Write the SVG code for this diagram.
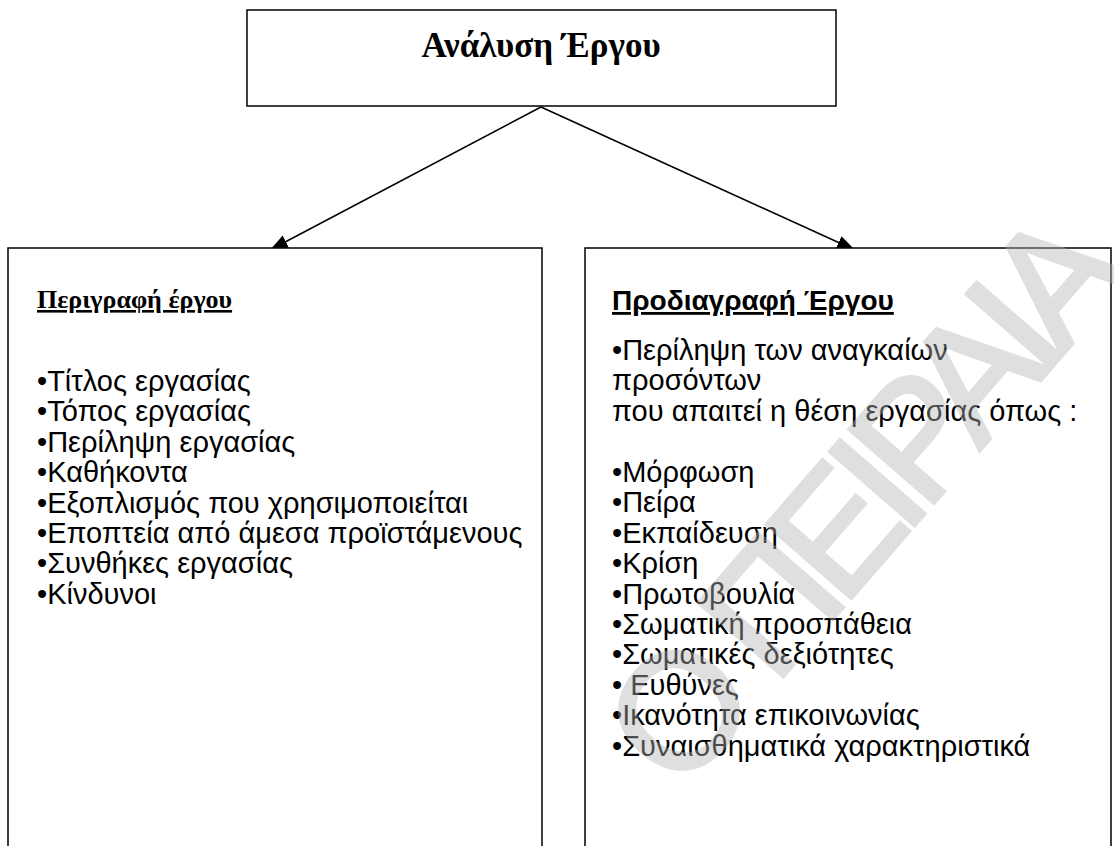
<svg xmlns="http://www.w3.org/2000/svg" width="1114" height="846" viewBox="0 0 1114 846">
<defs>
<style>
.box{fill:#fff;stroke:#000;stroke-width:1.5}
.conn{stroke:#000;stroke-width:1.5;fill:none;marker-end:url(#arr)}
.title{font-family:"Liberation Serif","Times New Roman",serif;font-weight:bold;font-size:35px;fill:#000}
.hs{font-family:"Liberation Serif","Times New Roman",serif;font-weight:bold;font-size:26px;text-decoration:underline;fill:#000}
.ha{font-family:"Liberation Sans",Arial,sans-serif;font-weight:bold;font-size:28px;text-decoration:underline;fill:#000}
.li{font-family:"Liberation Sans",Arial,sans-serif;font-size:29px;fill:#000}
.wm{font-family:"Liberation Sans",Arial,sans-serif;font-size:163px;letter-spacing:-14px;fill:#b4b4b4;stroke:#b4b4b4;stroke-width:4;opacity:0.42}
</style>
<marker id="arr" markerUnits="userSpaceOnUse" markerWidth="18" markerHeight="14" refX="18" refY="7" orient="auto">
<path d="M0,0 L18,7 L0,14 z" fill="#000"/>
</marker>
</defs>
<g id="connectors">
<line class="conn" x1="541" y1="107" x2="270" y2="250"/>
<line class="conn" x1="541" y1="107" x2="855" y2="250"/>
</g>
<g id="node-analysis">
<rect class="box" x="247" y="10" width="589" height="96"/>
<text class="title" x="541" y="57" text-anchor="middle">Ανάλυση Έργου</text>
</g>
<g id="node-description">
<rect class="box" x="8" y="248" width="534" height="640"/>
<text class="hs" x="37" y="308">Περιγραφή έργου</text>
<text class="li" x="37" y="391">•Τίτλος εργασίας</text>
<text class="li" x="37" y="421.4">•Τόπος εργασίας</text>
<text class="li" x="37" y="451.8">•Περίληψη εργασίας</text>
<text class="li" x="37" y="482.2">•Καθήκοντα</text>
<text class="li" x="37" y="512.6">•Εξοπλισμός που χρησιμοποιείται</text>
<text class="li" x="37" y="543">•Εποπτεία από άμεσα προϊστάμενους</text>
<text class="li" x="37" y="573.4">•Συνθήκες εργασίας</text>
<text class="li" x="37" y="603.8">•Κίνδυνοι</text>
</g>
<g id="node-specification">
<rect class="box" x="585" y="248" width="526" height="640"/>
<text class="ha" x="612" y="310">Προδιαγραφή Έργου</text>
<text class="li" x="612" y="360">•Περίληψη των αναγκαίων</text>
<text class="li" x="612" y="390.4">προσόντων</text>
<text class="li" x="612" y="420.8">που απαιτεί η θέση εργασίας όπως :</text>
<text class="li" x="612" y="482">•Μόρφωση</text>
<text class="li" x="612" y="512.4">•Πείρα</text>
<text class="li" x="612" y="542.8">•Εκπαίδευση</text>
<text class="li" x="612" y="573.2">•Κρίση</text>
<text class="li" x="612" y="603.6">•Πρωτοβουλία</text>
<text class="li" x="612" y="634">•Σωματική προσπάθεια</text>
<text class="li" x="612" y="664.4">•Σωματικές δεξιότητες</text>
<text class="li" x="612" y="694.8">• Ευθύνες</text>
<text class="li" x="612" y="725.2">•Ικανότητα επικοινωνίας</text>
<text class="li" x="612" y="755.6">•Συναισθηματικά χαρακτηριστικά</text>
</g>
<g id="watermark" transform="translate(680,795) rotate(-49)">
<text class="wm" x="0" y="0">Ο ΠΕΙΡΑΙΑ</text>
</g>
</svg>
